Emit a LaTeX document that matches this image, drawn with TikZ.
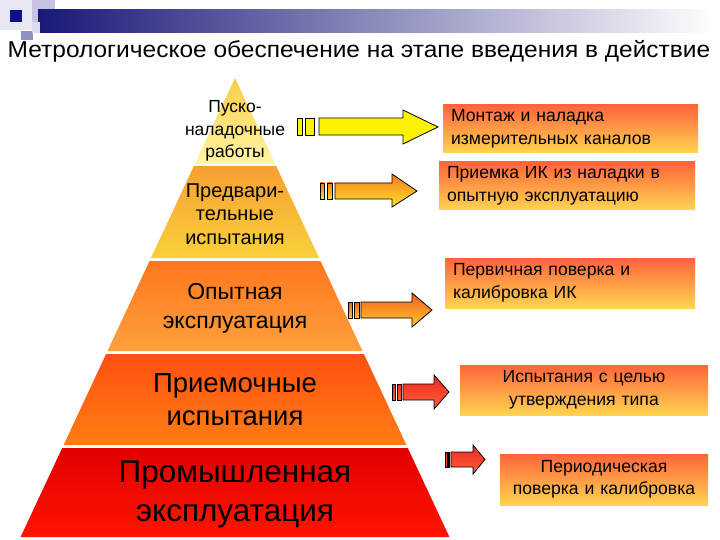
\documentclass[tikz,border=0pt]{standalone}
\usepackage{fontspec}
\setmainfont{Liberation Sans}
\definecolor{navy}{RGB}{24,24,120}
\definecolor{lav1}{RGB}{232,232,244}
\definecolor{lav2}{RGB}{196,196,226}
\definecolor{lav3}{RGB}{144,144,196}
\definecolor{dblue}{RGB}{16,16,140}
\definecolor{boxtop}{RGB}{255,100,60}
\definecolor{boxbot}{RGB}{255,212,80}
\tikzset{
  layer/.style={draw=none},
  ptext/.style={align=center, text=black, inner sep=0pt},
  infobox/.style={draw=none, top color=boxtop, bottom color=boxbot, minimum height=48pt, inner xsep=8pt, inner ysep=0pt, font=\fontsize{17.6}{22.5}\selectfont},
  arr/.style={draw=black, line width=0.8pt, line join=miter},
}
\begin{document}
\begin{tikzpicture}[x=1pt,y=-1pt]
\useasboundingbox (0,0) rectangle (720,540);
\fill[white] (0,0) rectangle (720,540);
% top decoration
\fill[lav1] (0,0) rectangle (32,30);
\fill[lav2] (32,0) rectangle (55,22);
\fill[lav3] (21,31) rectangle (33,40);
\shade[left color=navy, right color=white] (38,10) rectangle (715,33);
\fill[lav2!60] (32,22) rectangle (40,33);
\fill[dblue] (10,10) rectangle (22,22);
% title
\node[inner sep=0pt, font=\fontsize{23}{27}\selectfont] (title) at (359,51) {\scalebox{1.065}[1]{Метрологическое обеспечение на этапе введения в действие}};
% pyramid layers
\shade[layer, top color={rgb,255:red,250;green,205;blue,70}, bottom color={rgb,255:red,255;green,246;blue,165}]
  (235,78) -- (275.2,164) -- (194.8,164) -- cycle;
\shade[layer, top color={rgb,255:red,247;green,160;blue,50}, bottom color={rgb,255:red,250;green,208;blue,60}]
  (193.9,166) -- (276.1,166) -- (319.1,258) -- (150.9,258) -- cycle;
\shade[layer, top color={rgb,255:red,255;green,118;blue,30}, bottom color={rgb,255:red,255;green,160;blue,60}]
  (149.5,261) -- (320.5,261) -- (362.5,351) -- (107.5,351) -- cycle;
\shade[layer, top color={rgb,255:red,255;green,80;blue,16}, bottom color={rgb,255:red,255;green,125;blue,20}]
  (106.1,354) -- (363.9,354) -- (406.4,445) -- (63.6,445) -- cycle;
\shade[layer, top color={rgb,255:red,226;green,0;blue,0}, bottom color={rgb,255:red,255;green,20;blue,0}]
  (62.2,448) -- (407.8,448) -- (449.4,537) -- (20.6,537) -- cycle;
% pyramid texts
\node[ptext, font=\fontsize{17.5}{22.5}\selectfont] (p1) at (235,131) {Пуско-\\наладочные\\работы};
\node[ptext, font=\fontsize{20}{23.5}\selectfont] (p2) at (235,214) {Предвари-\\тельные\\испытания};
\node[ptext, font=\fontsize{23}{29}\selectfont] (p3) at (235,308) {Опытная\\эксплуатация};
\node[ptext, font=\fontsize{27.5}{33}\selectfont] (p4) at (235,400) {Приемочные\\испытания};
\node[ptext, font=\fontsize{31.5}{39}\selectfont] (p5) at (235,494) {Промышленная\\эксплуатация};
% boxes
\node[infobox, text width=239pt, align=left] (b1) at (570.5,129) {Монтаж и наладка\\измерительных каналов};
\node[infobox, text width=240pt, align=left] (b2) at (567,186) {Приемка ИК из наладки в\\опытную эксплуатацию};
\node[infobox, text width=234pt, align=left, minimum height=50pt] (b3) at (570,283) {Первичная поверка и\\калибровка ИК};
\node[infobox, text width=232pt, align=center, minimum height=50pt] (b4) at (584,390) {Испытания с целью\\утверждения типа};
\node[infobox, text width=192pt, align=center, minimum height=51pt] (b5) at (604,479.5) {Периодическая\\поверка и калибровка};
% arrow 1 (yellow)
\filldraw[arr, fill=yellow] (297,118) rectangle (302,135);
\filldraw[arr, fill=yellow] (305,118) rectangle (314,135);
\filldraw[arr, fill=yellow] (319,118) -- (403,118) -- (403,110) -- (438,127) -- (403,144) -- (403,135) -- (319,135) -- cycle;
% arrow 2
\tikzset{a2/.style={arr, top color={rgb,255:red,245;green,125;blue,30}, bottom color={rgb,255:red,255;green,225;blue,40}}}
\draw[a2] (320,183) rectangle (324,199);
\draw[a2] (327,183) rectangle (332,199);
\draw[a2] (335,183) -- (392,183) -- (392,174) -- (417,191) -- (392,207) -- (392,199) -- (335,199) -- cycle;
% arrow 3
\tikzset{a3/.style={arr, top color={rgb,255:red,240;green,95;blue,30}, bottom color={rgb,255:red,255;green,200;blue,45}}}
\draw[a3] (348,302) rectangle (352,318);
\draw[a3] (354,302) rectangle (359,318);
\draw[a3] (361,302) -- (412,302) -- (412,293) -- (432,310) -- (412,327) -- (412,318) -- (361,318) -- cycle;
% arrow 4
\tikzset{a4/.style={arr, top color={rgb,255:red,238;green,40;blue,30}, bottom color={rgb,255:red,255;green,95;blue,60}}}
\draw[a4] (392,384) rectangle (395,400);
\draw[a4] (397,384) rectangle (401,400);
\draw[a4] (403,384) -- (434,384) -- (434,375) -- (449,392) -- (434,409) -- (434,400) -- (403,400) -- cycle;
% arrow 5
\tikzset{a5/.style={arr, top color={rgb,255:red,238;green,40;blue,30}, bottom color={rgb,255:red,255;green,95;blue,60}}}
\draw[a5] (445,452) rectangle (447,467);
\draw[a5] (448,452) rectangle (449.5,467);
\draw[a5] (451,452) -- (473,452) -- (473,445) -- (485,459.5) -- (473,474) -- (473,467) -- (451,467) -- cycle;
\end{tikzpicture}
\end{document}
